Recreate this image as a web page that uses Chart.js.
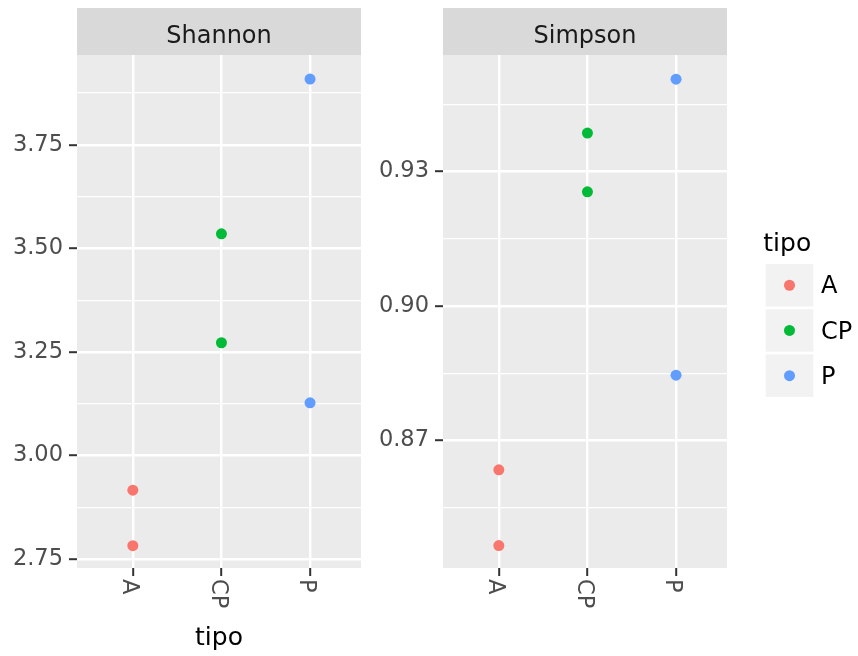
<!DOCTYPE html>
<html>
<head>
<meta charset="utf-8">
<script src="https://cdn.jsdelivr.net/npm/chart.js@4"></script>
<style>
  html, body { margin: 0; padding: 0; background: #fff; }
  #wrap { position: relative; width: 858px; height: 656px; }
  canvas { position: absolute; top: 0; }
  #shannon { left: 0; }
  #simpson { left: 372px; }
</style>
</head>
<body>
<div id="wrap">
  <canvas id="shannon" width="372" height="656"></canvas>
  <canvas id="simpson" width="486" height="656"></canvas>
</div>
<script>
const FONT = '"DejaVu Sans", sans-serif';

// groups on the x axis and their colours
const tipos = ["A", "CP", "P"];
const tipoColors = ["#F8766D", "#00BA38", "#619CFF"];

// Shannon index per group
const shannonA = [2.782, 2.916];
const shannonCP = [3.272, 3.535];
const shannonP = [3.127, 3.909];

// Simpson index per group
const simpsonA = [0.8466, 0.8635];
const simpsonCP = [0.9255, 0.9386];
const simpsonP = [0.8846, 0.9506];

// y breaks (labelled) and minor grid positions
const shannonBreaks = [2.75, 3.00, 3.25, 3.50, 3.75];
const shannonMinor = [2.875, 3.125, 3.375, 3.625, 3.875];
const simpsonBreaks = [0.87, 0.90, 0.93];
const simpsonMinor = [0.855, 0.885, 0.915, 0.945];

function datasetsFor(groups) {
  return groups.map((vals, i) => ({
    label: tipos[i],
    data: vals.map(v => ({ x: i + 1, y: v })),
    pointRadius: 5.5,
    pointHoverRadius: 5.5,
    pointBorderWidth: 0,
    backgroundColor: tipoColors[i],
    borderColor: tipoColors[i]
  }));
}

// panel background, strip, rotated x labels, titles, legend
const facetPlugin = {
  id: "facet",
  beforeDraw(chart, args, o) {
    const { ctx, chartArea: a } = chart;
    ctx.save();
    ctx.fillStyle = "#EBEBEB";
    ctx.fillRect(a.left, a.top, a.right - a.left, a.bottom - a.top);
    ctx.fillStyle = "#D9D9D9";
    ctx.fillRect(a.left, 8, a.right - a.left, a.top - 8);
    ctx.fillStyle = "#1A1A1A";
    ctx.font = "24px " + FONT;
    ctx.textAlign = "center";
    ctx.textBaseline = "alphabetic";
    ctx.fillText(o.strip, (a.left + a.right) / 2, 43);
    ctx.restore();
  },
  afterDraw(chart, args, o) {
    const { ctx, chartArea: a } = chart;
    const xs = chart.scales.x;
    ctx.save();
    ctx.fillStyle = "#4D4D4D";
    ctx.font = "22.5px " + FONT;
    xs.ticks.forEach((t, i) => {
      ctx.save();
      ctx.translate(xs.getPixelForValue(t.value) - 4, a.bottom + 11);
      ctx.rotate(Math.PI / 2);
      ctx.textAlign = "left";
      ctx.textBaseline = "middle";
      ctx.fillText(tipos[i], 0, 0);
      ctx.restore();
    });

    if (o.xTitle) {
      ctx.fillStyle = "#000";
      ctx.font = "25px " + FONT;
      ctx.textAlign = "center";
      ctx.textBaseline = "alphabetic";
      ctx.fillText(o.xTitle, (a.left + a.right) / 2, 645);
    }

    if (o.legend) {
      const lx = 393.7, kw = 47.6, kh = 42.5;
      ctx.fillStyle = "#000";
      ctx.font = "25px " + FONT;
      ctx.textAlign = "left";
      ctx.textBaseline = "alphabetic";
      ctx.fillText("tipo", 391.3, 251);
      ctx.font = "24px " + FONT;
      tipos.forEach((t, i) => {
        const top = 264 + i * 45.2;
        ctx.fillStyle = "#F2F2F2";
        ctx.fillRect(lx, top, kw, kh);
        ctx.fillStyle = tipoColors[i];
        ctx.beginPath();
        ctx.arc(lx + kw / 2, top + kh / 2, 5.5, 0, Math.PI * 2);
        ctx.fill();
        ctx.fillStyle = "#000";
        ctx.textBaseline = "middle";
        ctx.fillText(t, 449, top + kh / 2 + 2);
      });
    }
    ctx.restore();
  }
};

function makeFacet(id, cfg) {
  const allY = cfg.breaks.concat(cfg.minor).sort((p, q) => p - q);
  const isMajor = v => cfg.breaks.some(b => Math.abs(b - v) < 1e-9);
  return new Chart(document.getElementById(id), {
    type: "scatter",
    data: { datasets: datasetsFor(cfg.groups) },
    plugins: [facetPlugin],
    options: {
      responsive: false,
      devicePixelRatio: 1,
      animation: false,
      events: [],
      layout: { padding: { top: 55, right: cfg.padRight, bottom: 0, left: 0 } },
      plugins: {
        legend: { display: false },
        tooltip: { enabled: false },
        facet: { strip: cfg.strip, xTitle: cfg.xTitle, legend: cfg.legend }
      },
      scales: {
        x: {
          type: "linear",
          min: cfg.xMin,
          max: cfg.xMax,
          afterBuildTicks: s => { s.ticks = tipos.map((t, i) => ({ value: i + 1 })); },
          afterFit: s => { s.height = 88; },
          border: { display: false },
          grid: {
            color: "#FFFFFF",
            lineWidth: 2.4,
            tickColor: "#333333",
            tickWidth: 2,
            tickLength: 8
          },
          ticks: { display: false }
        },
        y: {
          type: "linear",
          min: cfg.yMin,
          max: cfg.yMax,
          afterBuildTicks: s => { s.ticks = allY.map(v => ({ value: v })); },
          afterFit: s => { s.width = cfg.axisWidth; },
          border: { display: false },
          grid: {
            color: "#FFFFFF",
            lineWidth: c => (c.tick && isMajor(c.tick.value) ? 2.4 : 1.2),
            tickColor: c => (c.tick && isMajor(c.tick.value) ? "#333333" : "rgba(0,0,0,0)"),
            tickWidth: 2,
            tickLength: 8
          },
          ticks: {
            autoSkip: false,
            padding: 6,
            color: "#4D4D4D",
            font: { family: FONT, size: 22.5 },
            callback: v => (isMajor(v) ? v.toFixed(2) : "")
          }
        }
      }
    }
  });
}

makeFacet("shannon", {
  strip: "Shannon",
  xTitle: "tipo",
  legend: false,
  groups: [shannonA, shannonCP, shannonP],
  breaks: shannonBreaks,
  minor: shannonMinor,
  yMin: 2.728,
  yMax: 3.967,
  xMin: 0.37,
  xMax: 3.575,
  axisWidth: 77,
  padRight: 11
});

makeFacet("simpson", {
  strip: "Simpson",
  xTitle: null,
  legend: true,
  groups: [simpsonA, simpsonCP, simpsonP],
  breaks: simpsonBreaks,
  minor: simpsonMinor,
  yMin: 0.8416,
  yMax: 0.956,
  xMin: 0.37,
  xMax: 3.575,
  axisWidth: 71,
  padRight: 131
});
</script>
</body>
</html>
